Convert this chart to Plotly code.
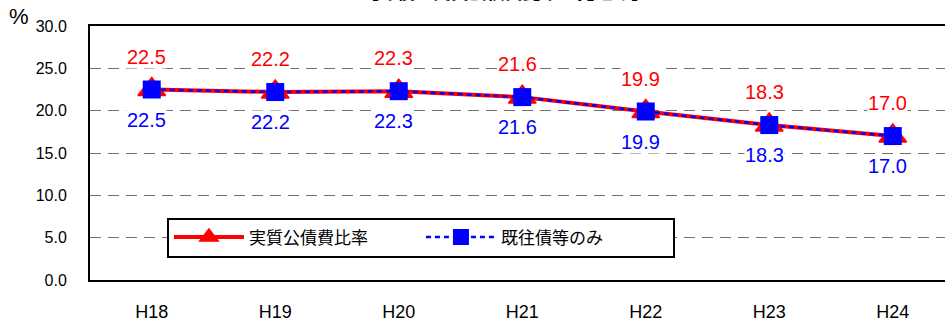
import plotly.graph_objects as go

# Fiscal years and projected ratios (%)
years = ["H18", "H19", "H20", "H21", "H22", "H23", "H24"]
real_ratio = [22.5, 22.2, 22.3, 21.6, 19.9, 18.3, 17.0]      # 実質公債費比率
existing_only = [22.5, 22.2, 22.3, 21.6, 19.9, 18.3, 17.0]   # 既往債等のみ
y_ticks = [0, 5, 10, 15, 20, 25, 30]

RED = "#FF0000"
BLUE = "#0000FF"
JP = "Noto Sans CJK JP"
NUM = "Liberation Sans, Arial"

fig = go.Figure()

fig.add_trace(go.Scatter(
    x=years, y=real_ratio, name="実質公債費比率",
    mode="lines+markers",
    line=dict(color=RED, width=4),
    marker=dict(symbol="triangle-up", size=24, color=RED,
                line=dict(color=RED, width=1.5)),
))
fig.add_trace(go.Scatter(
    x=years, y=existing_only, name="既往債等のみ",
    mode="lines+markers",
    line=dict(color=BLUE, width=2.5, dash="5px,4px"),
    marker=dict(symbol="square", size=18, color=BLUE),
))

# value labels: red above the points, blue below
for x, v in zip(years, real_ratio):
    fig.add_annotation(x=x, y=v, text=f"{v:.1f}", showarrow=False,
                       xshift=-5, yshift=33, bgcolor="white", borderpad=0,
                       font=dict(family=NUM, size=20, color=RED))
for x, v in zip(years, existing_only):
    fig.add_annotation(x=x, y=v, text=f"{v:.1f}", showarrow=False,
                       xshift=-5, yshift=-30, bgcolor="white", borderpad=0,
                       font=dict(family=NUM, size=20, color=BLUE))

# chart title (sits above the plotting frame, mostly outside the page)
fig.add_annotation(xref="paper", yref="paper", x=0.485, y=1, yanchor="bottom",
                   yshift=20, showarrow=False,
                   text="<b>【今後の実質公債費比率の見込み】</b>",
                   font=dict(family=JP, size=18, color="black"))
# unit label
fig.add_annotation(xref="paper", yref="paper", x=-0.083, y=1, xanchor="center",
                   yanchor="middle", yshift=10, showarrow=False, text="%",
                   font=dict(family=NUM, size=22, color="black"))

fig.update_layout(
    width=945, height=322,
    margin=dict(l=90, r=0, t=26, b=40),
    plot_bgcolor="white", paper_bgcolor="white",
    showlegend=True,
    legend=dict(
        orientation="h", x=0.09, y=0.246, xanchor="left", yanchor="top",
        bgcolor="white", bordercolor="black", borderwidth=2,
        font=dict(family=JP, size=17, color="black"),
        entrywidth=167, itemwidth=70,
    ),
    xaxis=dict(
        type="category", range=[-0.5, 6.423],
        showline=True, linecolor="black", linewidth=2, mirror=True,
        showgrid=False, ticks="", ticklabelstandoff=14,
        tickfont=dict(family=NUM, size=18, color="black"),
    ),
    yaxis=dict(
        range=[0, 30], tickvals=y_ticks,
        ticktext=[f"{t:.1f}" for t in y_ticks],
        showline=True, linecolor="black", linewidth=2,
        showgrid=True, gridcolor="#707070", gridwidth=1, griddash="11px,7px",
        zeroline=False, ticks="", ticklabelstandoff=18,
        tickfont=dict(family=NUM, size=16, color="black"),
    ),
)

fig.write_html("out.html")
